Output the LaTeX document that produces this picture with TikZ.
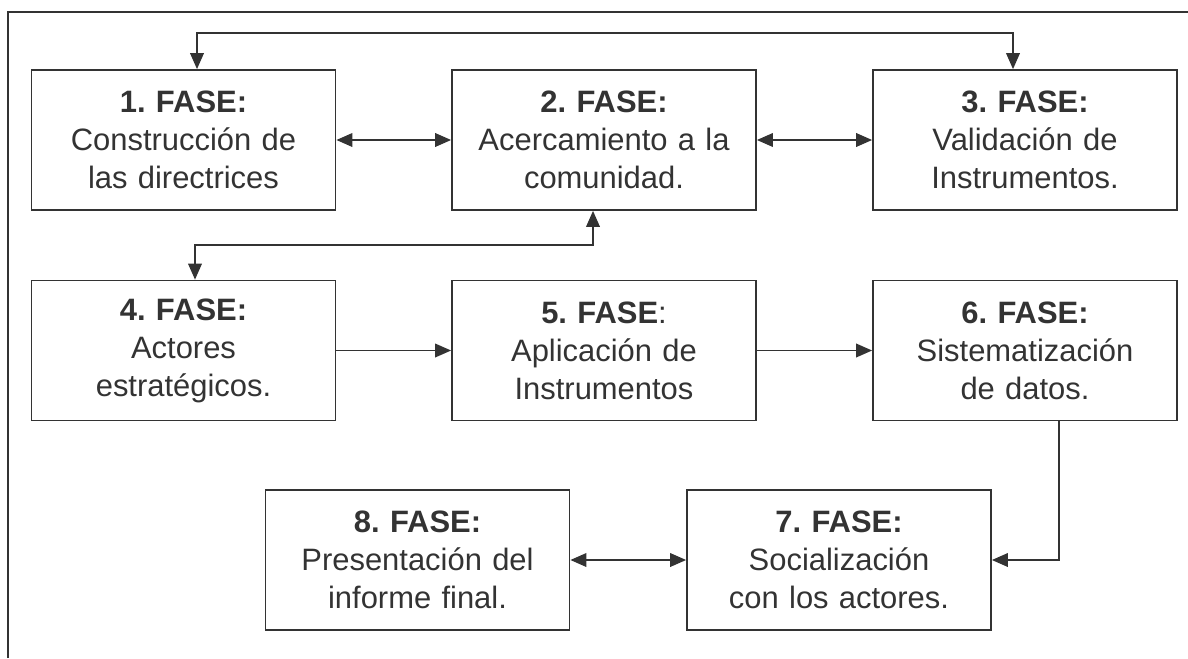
\documentclass[tikz,border=0pt]{standalone}
\usepackage{fontspec}
\setmainfont{Liberation Sans}
\usetikzlibrary{arrows.meta}
\definecolor{ink}{HTML}{333333}
\frenchspacing
\begin{document}
\begin{tikzpicture}[x=0.025cm,y=-0.025cm,
    fase/.style={draw=ink, line width=1.2pt, text=ink, align=center, text width=7.2cm,
      minimum width=7.6cm, minimum height=3.5cm, inner sep=0pt,
      font=\fontsize{22}{27}\selectfont},
    flecha/.style={draw=ink, line width=1.2pt, arrows={-Triangle[length=0.4cm,width=0.34cm]}},
    doble/.style={flecha, arrows={Triangle[length=0.4cm,width=0.34cm]-Triangle[length=0.4cm,width=0.34cm]}}]
    \useasboundingbox (0,0) rectangle (1188,658);
    % marco
    \draw [ink, line width=1.2pt] (8,658) -- (8,12) -- (1188,12);

    % primera fila
    \node [fase, name=f1] at (183.5,140) {\textbf{1. FASE:}\\Construcción de\\las directrices};
    \node [fase, name=f2] at (604,140) {\textbf{2. FASE:}\\Acercamiento a la\\comunidad.};
    \node [fase, name=f3] at (1025,140) {\textbf{3. FASE:}\\Validación de\\Instrumentos.};
    \draw [doble] (f1.east) -- (f2.west);
    \draw [doble] (f2.east) -- (f3.west);
    \coordinate (t1) at (197,33);
    \coordinate (t3) at (1013,33);
    \draw [doble] (t1 |- f1.north) -- (t1) -- (t3) -- (t3 |- f3.north);

    % segunda fila
    \node [fase, name=f4] at (183.5,350.5) {\textbf{4. FASE:}\\Actores\\estratégicos.};
    \node [fase, name=f5] at (604,350.5) {\textbf{5. FASE}:\\Aplicación de\\Instrumentos};
    \node [fase, name=f6] at (1025,350.5) {\textbf{6. FASE:}\\Sistematización\\de datos.};
    \draw [flecha] (f4.east) -- (f5.west);
    \draw [flecha] (f5.east) -- (f6.west);
    \coordinate (m2) at (593,245);
    \coordinate (m4) at (195,245);
    \draw [doble] (m2 |- f2.south) -- (m2) -- (m4) -- (m4 |- f4.north);

    % tercera fila
    \node [fase, name=f8] at (417.5,560) {\textbf{8. FASE:}\\Presentación del\\informe final.};
    \node [fase, name=f7] at (839,560) {\textbf{7. FASE:}\\Socialización\\con los actores.};
    \draw [doble] (f8.east) -- (f7.west);
    \coordinate (c6) at (1059,560);
    \draw [flecha] (c6 |- f6.south) -- (c6) -- (f7.east);
  \end{tikzpicture}
\end{document}
